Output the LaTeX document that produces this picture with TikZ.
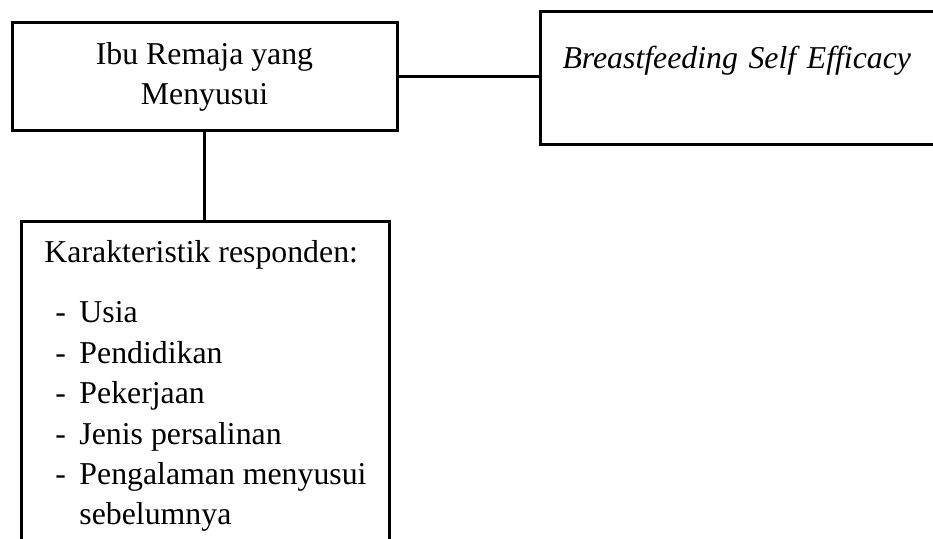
\documentclass[tikz,border=0pt]{standalone}
\usepackage{fontspec}
\setmainfont{Liberation Serif}
\usepackage{xcolor}
\usetikzlibrary{positioning, calc}
\definecolor{ink}{HTML}{000000}
\tikzset{
  font=\fontsize{15.9pt}{20.2pt}\selectfont,
  %
  box/.style={
    draw=ink, line width=1.5pt, fill=white, text=ink, inner sep=0pt,
  },
  %
  link/.style={draw=ink, line width=1.5pt},
}

\begin{document}
\begin{tikzpicture}[x=0.5pt, y=-0.5pt]
\useasboundingbox (0,0) rectangle (933,539);

% =========================================================================
% the three boxes
% =========================================================================
\node[box, align=center, minimum width=192.5pt, minimum height=54pt]
  (ibu) at (204.5,77) {Ibu Remaja yang\\Menyusui};

\node[box, anchor=north west, align=left, text width=183.5pt,
      inner xsep=11pt, inner ysep=0pt, text height=28.5pt, text depth=38pt]
  (bse) at (539,10) {\textit{Breastfeeding Self Efficacy}};

\node[box, anchor=north west, align=left, minimum width=184pt,
      inner xsep=11pt, inner ysep=0pt]
  (resp) at (20,220)
  {\rule{0pt}{20.5pt}Karakteristik responden:\\[10pt]
   \hspace*{5.5pt}\makebox[12pt][l]{-}Usia\\
   \hspace*{5.5pt}\makebox[12pt][l]{-}Pendidikan\\
   \hspace*{5.5pt}\makebox[12pt][l]{-}Pekerjaan\\
   \hspace*{5.5pt}\makebox[12pt][l]{-}Jenis persalinan\\
   \hspace*{5.5pt}\makebox[12pt][l]{-}Pengalaman menyusui\\
   \hspace*{17.5pt}sebelumnya\rule[-15pt]{0pt}{16pt}};

% connectors
\draw[link] (ibu.east) -- (ibu.east -| bse.west);
\draw[link] (ibu.south) -- (ibu.south |- resp.north);

\end{tikzpicture}
\end{document}
